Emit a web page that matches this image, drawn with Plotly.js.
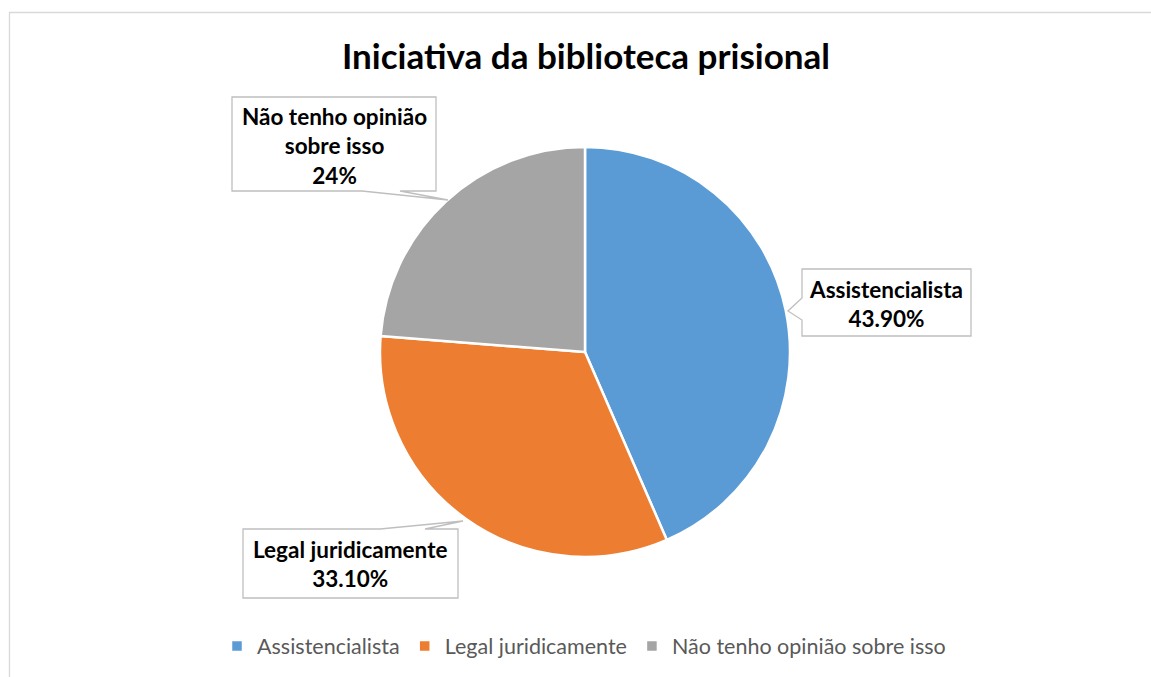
<!DOCTYPE html>
<html>
<head>
<meta charset="utf-8">
<script src="https://cdn.plot.ly/plotly-2.35.2.min.js"></script>
<style>
  html, body { margin: 0; padding: 0; background: #fff; }
  #chart { width: 1151px; height: 677px; }
</style>
</head>
<body>
<div id="chart"></div>
<script>
// Slice data
const labels = ["Assistencialista", "Legal juridicamente", "Não tenho opinião sobre isso"];
const values = [43.9, 33.1, 24];
const colors = ["#5B9BD5", "#ED7D31", "#A5A5A5"];

const W = 1151, H = 677;
// pixel -> paper helpers (margins are zero so paper == page)
const px = x => x / W;
const py = y => 1 - y / H;

function pctText(v) {
  return (v % 1 === 0 ? v : v.toFixed(2)) + "%";
}

// callout boxes: box edges, wedge base and tip, text centre (pixels)
const callouts = [
  { box: [802, 269, 971, 336], side: "left", base: [298, 320], tip: [788, 311], at: [886, 304] },
  { box: [243, 529, 458, 598], side: "top", base: [380, 425], tip: [463, 521], at: [350, 564] },
  { box: [232, 97, 436, 191], side: "bottom", base: [362, 400], tip: [448, 200], at: [334, 146] }
];

function calloutPath(c) {
  const [l, t, r, b] = c.box;
  let pts;
  if (c.side === "left") {
    pts = [[l, t], [r, t], [r, b], [l, b], [l, c.base[1]], c.tip, [l, c.base[0]]];
  } else if (c.side === "top") {
    pts = [[l, t], [c.base[0], t], c.tip, [c.base[1], t], [r, t], [r, b], [l, b]];
  } else {
    pts = [[l, t], [r, t], [r, b], [c.base[1], b], c.tip, [c.base[0], b], [l, b]];
  }
  return "M" + pts.map(p => px(p[0]) + "," + py(p[1])).join(" L") + " Z";
}

const shapes = callouts.map(c => ({
  type: "path",
  xref: "paper", yref: "paper",
  path: calloutPath(c),
  fillcolor: "#FFFFFF",
  line: { color: "#BFBFBF", width: 1.3 }
}));

// outer chart frame
shapes.push({
  type: "rect", xref: "paper", yref: "paper",
  x0: px(9.5), x1: px(1160), y0: py(12.5), y1: py(690),
  line: { color: "#D9D9D9", width: 1.3 }, fillcolor: "rgba(0,0,0,0)"
});

const annotations = callouts.map((c, i) => ({
  xref: "paper", yref: "paper",
  x: px(c.at[0]), y: py(c.at[1]),
  xanchor: "center", yanchor: "middle",
  showarrow: false,
  align: "center",
  text: "<b>" + labels[i].replace(" sobre", "<br>sobre") + "<br>" + pctText(values[i]) + "</b>",
  font: { family: "Lato, 'Open Sans', sans-serif", size: 22.5, color: "#000000" }
}));

const pieTrace = {
  type: "pie",
  labels: labels,
  values: values,
  sort: false,
  direction: "clockwise",
  rotation: 0,
  textinfo: "none",
  marker: { colors: colors, line: { color: "#FFFFFF", width: 2.5 } },
  domain: { x: [px(380), px(790)], y: [py(557), py(147)] }
};

const layout = {
  width: W,
  height: H,
  margin: { l: 0, r: 0, t: 0, b: 0 },
  paper_bgcolor: "#FFFFFF",
  title: {
    text: "<b>Iniciativa da biblioteca prisional</b>",
    x: px(586), xanchor: "center",
    y: py(57), yanchor: "middle",
    font: { family: "Lato, 'Open Sans', sans-serif", size: 35, color: "#000000" }
  },
  showlegend: true,
  legend: {
    orientation: "h",
    x: px(584), xanchor: "center",
    y: py(646), yanchor: "middle",
    itemwidth: 30,
    font: { family: "Lato, 'Open Sans', sans-serif", size: 21.5, color: "#595959" }
  },
  shapes: shapes,
  annotations: annotations
};

Plotly.newPlot("chart", [pieTrace], layout, { displayModeBar: false, staticPlot: true });
</script>
</body>
</html>
